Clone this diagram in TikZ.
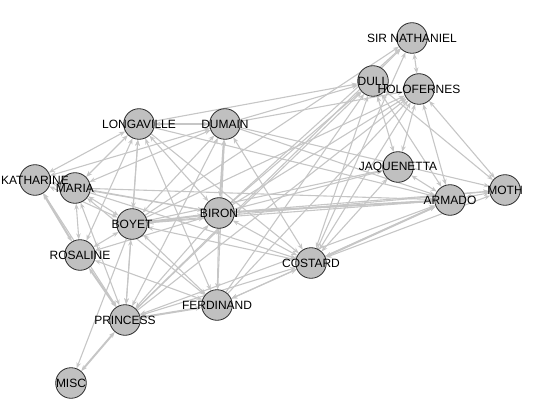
\documentclass[tikz,border=0pt]{standalone}
\usepackage{fontspec}
\setmainfont{Liberation Sans}
\usetikzlibrary{arrows.meta,backgrounds}
\definecolor{grisnodo}{RGB}{192,192,192}
\definecolor{grisarista}{RGB}{198,198,198}
\definecolor{bordenodo}{RGB}{45,45,45}

\begin{document}
\begin{tikzpicture}[x=1pt,y=-1pt,
  actor/.style={circle,draw=bordenodo,line width=0.8pt,fill=grisnodo,
                minimum size=30.6pt,inner sep=0pt},
  nombre/.style={font=\fontsize{12}{14}\selectfont,inner sep=0pt},
  ar/.style={draw=grisarista,line width=1.1pt,-{Stealth[length=6pt,width=4.6pt]}},
  arr/.style={ar,{Stealth[length=6pt,width=4.6pt]}-{Stealth[length=6pt,width=4.6pt]}},
  grueso/.style={line width=2pt}
]
\useasboundingbox (0,0) rectangle (541,409);

% personajes
\node[actor] (nat) at (412,38) {};
\node[actor] (dul) at (373,81) {};
\node[actor] (hol) at (419,89) {};
\node[actor] (jaq) at (398,167) {};
\node[actor] (mot) at (505,190) {};
\node[actor] (arm) at (450,200) {};
\node[actor] (lon) at (139,124) {};
\node[actor] (dum) at (225,124) {};
\node[actor] (kat) at (35,180) {};
\node[actor] (mar) at (75,188) {};
\node[actor] (boy) at (132,224) {};
\node[actor] (bir) at (219,213) {};
\node[actor] (ros) at (80,255) {};
\node[actor] (cos) at (311,263) {};
\node[actor] (fer) at (217,305) {};
\node[actor] (pri) at (125,320) {};
\node[actor] (mis) at (71,383) {};

% nombres
\node[nombre] (nat-t) at (nat) {SIR NATHANIEL};
\node[nombre] (dul-t) at (dul) {DULL};
\node[nombre] (hol-t) at (hol) {HOLOFERNES};
\node[nombre] (jaq-t) at (jaq) {JAQUENETTA};
\node[nombre] (mot-t) at (mot) {MOTH};
\node[nombre] (arm-t) at (arm) {ARMADO};
\node[nombre] (lon-t) at (lon) {LONGAVILLE};
\node[nombre] (dum-t) at (dum) {DUMAIN};
\node[nombre] (kat-t) at (kat) {KATHARINE};
\node[nombre] (mar-t) at (mar) {MARIA};
\node[nombre] (boy-t) at (boy) {BOYET};
\node[nombre] (bir-t) at (bir) {BIRON};
\node[nombre] (ros-t) at (ros) {ROSALINE};
\node[nombre] (cos-t) at (cos) {COSTARD};
\node[nombre] (fer-t) at (fer) {FERDINAND};
\node[nombre] (pri-t) at (pri) {PRINCESS};
\node[nombre] (mis-t) at (mis) {MISC};

\begin{scope}[on background layer]
% en los dos sentidos
\draw[arr] (nat) -- (hol); \draw[arr] (hol) -- (jaq); \draw[arr] (hol) -- (arm);
\draw[arr] (hol) -- (mot); \draw[arr] (hol) -- (cos);
\draw[arr] (dul) -- (jaq); \draw[arr] (dul) -- (arm); \draw[arr] (dul) -- (cos);
\draw[arr] (jaq) -- (arm); \draw[arr] (jaq) -- (cos);
\draw[arr] (arm) -- (mot); \draw[arr,grueso] (arm) -- (cos); \draw[arr,grueso] (arm) -- (bir);
\draw[arr] (arm) -- (boy); \draw[arr] (arm) -- (pri); \draw[arr] (arm) -- (fer);
\draw[arr] (mot) -- (cos);
\draw[arr] (lon) -- (dum); \draw[arr] (lon) -- (kat); \draw[arr] (lon) -- (mar);
\draw[arr] (lon) -- (boy); \draw[arr] (lon) -- (bir); \draw[arr] (lon) -- (ros);
\draw[arr] (lon) -- (pri); \draw[arr] (lon) -- (fer);
\draw[arr,grueso] (dum) -- (bir); \draw[arr] (dum) -- (kat); \draw[arr] (dum) -- (mar);
\draw[arr] (dum) -- (boy); \draw[arr] (dum) -- (pri); \draw[arr] (dum) -- (fer);
\draw[arr] (dum) -- (cos);
\draw[arr,grueso] (kat) -- (ros); \draw[arr] (kat) -- (pri); \draw[arr] (kat) -- (boy);
\draw[arr] (kat) -- (bir);
\draw[arr] (mar) -- (ros); \draw[arr] (mar) -- (boy); \draw[arr] (mar) -- (bir);
\draw[arr] (mar) -- (pri); \draw[arr] (mar) -- (fer);
\draw[arr,grueso] (boy) -- (bir); \draw[arr] (boy) -- (ros); \draw[arr] (boy) -- (pri);
\draw[arr] (boy) -- (fer); \draw[arr] (boy) -- (cos);
\draw[arr,grueso] (ros) -- (pri); \draw[arr] (ros) -- (bir); \draw[arr] (ros) -- (fer);
\draw[arr,grueso] (pri) -- (fer); \draw[arr] (pri) -- (bir); \draw[arr] (pri) -- (cos);
\draw[arr,grueso] (pri) -- (mis);
\draw[arr] (bir) -- (fer); \draw[arr] (bir) -- (cos); \draw[arr] (fer) -- (cos);
% en un sentido
\draw[ar] (boy) -- (mis);
\draw[ar] (lon) -- (dul); \draw[ar] (dum) -- (dul); \draw[ar] (dum) -- (hol);
\draw[ar] (bir) -- (dul); \draw[ar] (bir) -- (hol); \draw[ar] (bir) -- (nat);
\draw[ar] (bir) -- (mot); \draw[ar] (bir) -- (jaq);
\draw[ar] (boy) -- (mot); \draw[ar] (boy) -- (nat); \draw[ar] (boy) -- (hol);
\draw[ar] (boy) -- (jaq);
\draw[ar] (pri) -- (nat); \draw[ar] (pri) -- (dul); \draw[ar] (pri) -- (hol);
\draw[ar] (cos) -- (nat); \draw[ar] (fer) -- (dul); \draw[ar] (fer) -- (hol);
\draw[ar] (dum) -- (mot); \draw[ar] (dum) -- (arm);
\draw[ar] (lon) -- (arm); \draw[ar] (lon) -- (cos);
\draw[ar] (mar) -- (arm); \draw[ar] (mar) -- (cos);
\draw[ar] (dul) -- (mot);
\end{scope}
\end{tikzpicture}
\end{document}
